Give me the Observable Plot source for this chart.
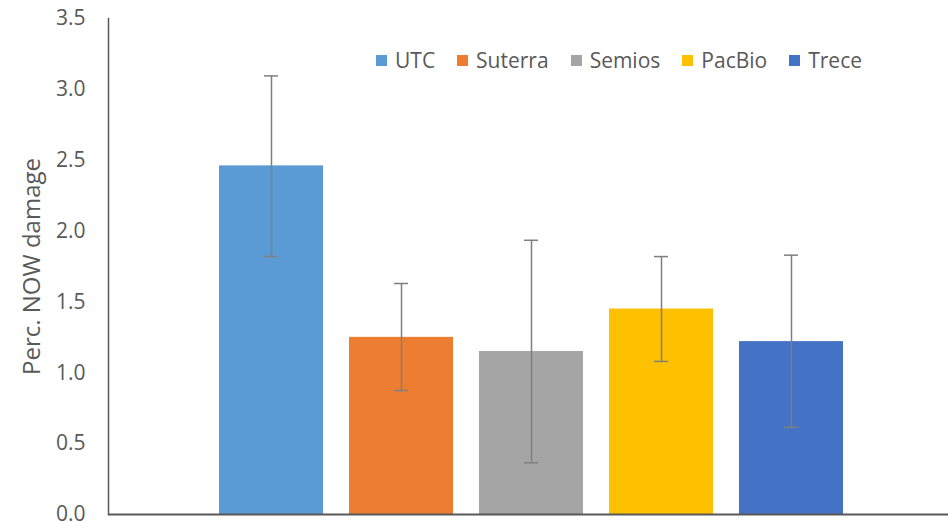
<!DOCTYPE html>
<html>
<head>
<meta charset="utf-8">
<script src="https://cdn.jsdelivr.net/npm/d3@7"></script>
<script src="https://cdn.jsdelivr.net/npm/@observablehq/plot@0.6"></script>
<style>
  html, body { margin: 0; padding: 0; background: #fff; }
  #wrap { position: relative; width: 948px; height: 522px; font-family: "Open Sans", sans-serif; }
  #legend { position: absolute; top: 46px; left: 376px; display: flex; align-items: center; gap: 22px; color: #595959; font-size: 21px; }
  #legend .item { display: flex; align-items: center; }
  #legend .sw { width: 11px; height: 11px; margin-right: 8px; }
</style>
</head>
<body>
<div id="wrap"><div id="legend"></div></div>
<script>
const categories = ["UTC", "Suterra", "Semios", "PacBio", "Trece"];
const values = [2.46, 1.25, 1.15, 1.45, 1.22];
const errLow = [1.82, 0.875, 0.365, 1.08, 0.615];
const errHigh = [3.095, 1.63, 1.935, 1.82, 1.83];
const colors = ["#5B9BD5", "#ED7D31", "#A5A5A5", "#FFC000", "#4472C4"];
const yTicks = [0, 0.5, 1, 1.5, 2, 2.5, 3, 3.5];
const yLabel = "Perc. NOW damage";

const data = categories.map((c, i) => ({name: c, value: values[i], lo: errLow[i], hi: errHigh[i]}));

const W = 948, H = 522;
const mL = 108, mT = 18, mB = 8, mR = 0;

const chart = Plot.plot({
  width: W,
  height: H,
  marginLeft: mL,
  marginRight: mR,
  marginTop: mT,
  marginBottom: mB,
  style: {fontFamily: "'Open Sans', sans-serif", background: "#fff", overflow: "visible"},
  x: {domain: categories, range: [219, 843], paddingInner: 0.2, paddingOuter: 0, axis: null},
  y: {domain: [0, 3.5], ticks: yTicks},
  color: {domain: categories, range: colors},
  marks: [
    Plot.barY(data, {x: "name", y: "value", fill: "name"}),
    Plot.ruleX(data, {x: "name", y1: "lo", y2: "hi", stroke: "#7f7f7f", strokeWidth: 1.5}),
    Plot.tickY(data, {x: "name", y: "lo", stroke: "#7f7f7f", strokeWidth: 1.5, insetLeft: 45, insetRight: 45}),
    Plot.tickY(data, {x: "name", y: "hi", stroke: "#7f7f7f", strokeWidth: 1.5, insetLeft: 45, insetRight: 45}),
    Plot.axisY({ticks: yTicks, tickSize: 0, tickPadding: 23, tickFormat: d3.format(".1f"), fontSize: 21, color: "#595959", label: null}),
    Plot.frame({anchor: "left", stroke: "#595959", strokeWidth: 1.5}),
    Plot.ruleY([0], {stroke: "#595959", strokeWidth: 2, insetRight: -10}),
    Plot.text([yLabel], {frameAnchor: "left", rotate: -90, dx: -76, fontSize: 24, fill: "#595959", textAnchor: "middle"})
  ]
});
document.getElementById("wrap").prepend(chart);

const legend = document.getElementById("legend");
categories.forEach((c, i) => {
  const it = document.createElement("div");
  it.className = "item";
  const sw = document.createElement("span");
  sw.className = "sw";
  sw.style.background = colors[i];
  const t = document.createElement("span");
  t.textContent = c;
  it.appendChild(sw);
  it.appendChild(t);
  legend.appendChild(it);
});
</script>
</body>
</html>
